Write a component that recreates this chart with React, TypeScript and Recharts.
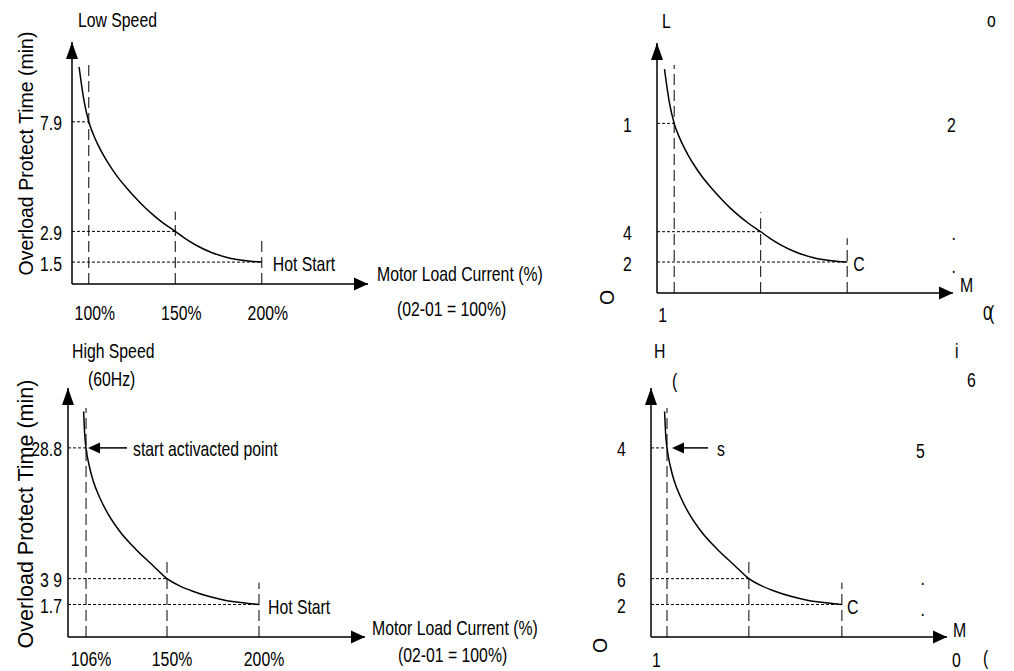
import React from 'react';
import { LineChart, Line, XAxis, YAxis, ReferenceLine, ReferenceDot } from 'recharts';

// Low speed overload curve (02-01 = 100%)
const lowLoad = [94.4, 97.1, 100, 102.7, 105.2, 108.3, 111.4, 116.4, 121.9, 127.1, 132.3, 137.7, 142.7, 150, 155.6, 161.8, 170.9, 180, 190.9, 200];
const lowTime = [10.4, 8.92, 7.9, 7.31, 6.87, 6.4, 5.99, 5.41, 4.88, 4.42, 4.0, 3.62, 3.3, 2.9, 2.58, 2.28, 1.94, 1.71, 1.56, 1.5];
// High speed (60Hz) overload curve
const highLoad = [104.7, 105.3, 106, 107.7, 109.9, 113.6, 118.2, 124.7, 133.0, 142.2, 150, 156.9, 164.0, 173.0, 182.0, 191.0, 200];
const highTime = [39.8, 32.5, 28.8, 24.1, 20.3, 16.5, 13.2, 10.1, 7.5, 5.4, 3.9, 3.2, 2.72, 2.28, 1.99, 1.82, 1.7];

// marked points and how far up the dashed guides reach
const lowKeyLoad = [100, 150, 200];
const lowKeyTime = [7.9, 2.9, 1.5];
const lowGuideTop = [10.6, 3.8, 2.6];
const highKeyLoad = [106, 150, 200];
const highKeyTime = [28.8, 3.9, 1.7];
const highGuideTop = [41, 6.4, 3.5];

const lowXLabels = ['100%', '150%', '200%'];
const lowYLabels = ['7.9', '2.9', '1.5'];
const highXLabels = ['106%', '150%', '200%'];
const highYLabels = ['28.8', '3 9', '1.7'];
// the right-hand copies only show fragments of the labels
const lowXCut = ['1', '', ''];
const lowYCut = ['1', '4', '2'];
const highXCut = ['1', '', ''];
const highYCut = ['4', '6', '2'];

const FONT = "'Liberation Sans', Arial, sans-serif";
const FS = 20.5;
const SQUEEZE = 0.77; // labels are set in a condensed face

type Anchor = 'start' | 'middle' | 'end';

function NText({ x, y, t, anchor = 'start', size = FS, squeeze = SQUEEZE, rot = false }: {
  x: number; y: number; t: string; anchor?: Anchor; size?: number; squeeze?: number; rot?: boolean;
}) {
  const tf = rot ? `translate(${x} ${y}) rotate(-90)` : `translate(${x} ${y}) scale(${squeeze} 1)`;
  return (
    <text x={0} y={0} transform={tf} textAnchor={anchor} fontFamily={FONT} fontSize={size} fill="#000">
      {t}
    </text>
  );
}

type Note = { t: string; x: number; y: number; rot?: boolean; anchor?: Anchor; size?: number };

type PanelCfg = {
  left: number; top: number; width: number; height: number;
  x0: number; x1: number; y0: number; y1: number;
  xDomain: [number, number]; yDomain: [number, number]; yScale: 'linear' | 'sqrt';
  load: number[]; time: number[];
  keyLoad: number[]; keyTime: number[]; guideTop: number[];
  xLabels: string[]; yLabels: string[];
  xTick: { dx: number; dy: number; anchor: Anchor };
  yTick: { dx: number; anchor: Anchor };
  end: { t: string; dx: number };
  pointer?: { t: string; tip: number; line: number; text: number };
  notes: Note[];
};

const AXIS_W = 40;
const AXIS_H = 40;

function Panel({ c }: { c: PanelCfg }) {
  const rows = c.load.map((x, i) => ({ x, y: c.time[i] }));
  const px0 = c.x0 - c.left;
  const px1 = c.x1 - c.left;
  const py0 = c.y0 - c.top;
  const py1 = c.y1 - c.top;

  const xTick = (p: any) => {
    const label = c.xLabels[c.keyLoad.indexOf(p.payload.value)] ?? '';
    return <NText x={p.x + c.xTick.dx} y={py1 + c.xTick.dy} t={label} anchor={c.xTick.anchor} />;
  };
  const yTick = (p: any) => {
    const label = c.yLabels[c.keyTime.indexOf(p.payload.value)] ?? '';
    return <NText x={px0 + c.yTick.dx} y={p.y + 8.5} t={label} anchor={c.yTick.anchor} />;
  };

  const n = c.keyLoad.length - 1;
  const ptr = c.pointer;

  return (
    <div style={{ position: 'absolute', left: c.left, top: c.top }}>
      <LineChart
        width={c.width}
        height={c.height}
        data={rows}
        margin={{ top: py0, left: px0 - AXIS_W, right: c.width - px1, bottom: c.height - py1 - AXIS_H }}
      >
        <XAxis
          type="number"
          dataKey="x"
          domain={c.xDomain}
          allowDataOverflow
          ticks={c.keyLoad}
          interval={0}
          height={AXIS_H}
          tickLine={false}
          tickSize={0}
          tickMargin={0}
          axisLine={{ stroke: '#000', strokeWidth: 1.5 }}
          tick={xTick}
        />
        <YAxis
          type="number"
          scale={c.yScale}
          domain={c.yDomain}
          allowDataOverflow
          ticks={c.keyTime}
          interval={0}
          width={AXIS_W}
          tickLine={false}
          tickSize={0}
          tickMargin={0}
          axisLine={{ stroke: '#000', strokeWidth: 1.5 }}
          tick={yTick}
        />
        {c.keyLoad.map((v, i) => (
          <ReferenceLine
            key={'v' + i}
            segment={[{ x: v, y: c.yDomain[0] }, { x: v, y: c.guideTop[i] }]}
            stroke="#000"
            strokeWidth={1}
            strokeDasharray="11 5"
            ifOverflow="visible"
          />
        ))}
        {c.keyLoad.map((v, i) => (
          <ReferenceLine
            key={'h' + i}
            segment={[{ x: c.xDomain[0], y: c.keyTime[i] }, { x: v, y: c.keyTime[i] }]}
            stroke="#000"
            strokeWidth={1}
            strokeDasharray="3 2"
            ifOverflow="visible"
          />
        ))}
        <Line
          type="monotone"
          dataKey="y"
          stroke="#000"
          strokeWidth={1.5}
          dot={false}
          activeDot={false}
          isAnimationActive={false}
        />
        <ReferenceDot
          x={c.keyLoad[n]}
          y={c.keyTime[n]}
          ifOverflow="visible"
          shape={(p: any) => <NText x={p.cx + c.end.dx} y={p.cy + 9} t={c.end.t} />}
        />
        {ptr && (
          <ReferenceDot
            x={c.keyLoad[0]}
            y={c.keyTime[0]}
            ifOverflow="visible"
            shape={(p: any) => (
              <g>
                <line x1={p.cx + ptr.tip + 10} y1={p.cy} x2={p.cx + ptr.line} y2={p.cy} stroke="#000" strokeWidth={1.5} />
                <polygon
                  points={`${p.cx + ptr.tip},${p.cy} ${p.cx + ptr.tip + 12},${p.cy - 5.5} ${p.cx + ptr.tip + 12},${p.cy + 5.5}`}
                  fill="#000"
                />
                <NText x={p.cx + ptr.text} y={p.cy + 8.5} t={ptr.t} />
              </g>
            )}
          />
        )}
        <polygon points={`${px0},${py0} ${px0 - 6},${py0 + 17} ${px0 + 6},${py0 + 17}`} fill="#000" />
        <polygon points={`${px1},${py1} ${px1 - 14},${py1 - 6.5} ${px1 - 14},${py1 + 6.5}`} fill="#000" />
        {c.notes.map((m, i) => (
          <NText
            key={'n' + i}
            x={m.x - c.left}
            y={m.y - c.top}
            t={m.t}
            anchor={m.anchor}
            size={m.size}
            rot={m.rot}
          />
        ))}
      </LineChart>
    </div>
  );
}

const topLeft: PanelCfg = {
  left: 0, top: 0, width: 560, height: 330,
  x0: 72, x1: 368, y0: 42, y1: 284,
  xDomain: [90.3, 261.4], yDomain: [0.5, 11.54], yScale: 'linear',
  load: lowLoad, time: lowTime, keyLoad: lowKeyLoad, keyTime: lowKeyTime, guideTop: lowGuideTop,
  xLabels: lowXLabels, yLabels: lowYLabels,
  xTick: { dx: 6, dy: 36, anchor: 'middle' },
  yTick: { dx: -10, anchor: 'end' },
  end: { t: 'Hot Start', dx: 11 },
  notes: [
    { t: 'Low Speed', x: 78, y: 27 },
    { t: 'Motor Load Current (%)', x: 377, y: 281 },
    { t: '(02-01 = 100%)', x: 397, y: 316 },
    { t: 'Overload Protect Time (min)', x: 33, y: 153.5, rot: true, anchor: 'middle', size: 19.5 },
  ],
};

const topRight: PanelCfg = {
  left: 560, top: 0, width: 454, height: 330,
  x0: 657, x1: 953, y0: 43, y1: 293,
  xDomain: [90.07, 261.17], yDomain: [0.07, 11.61], yScale: 'linear',
  load: lowLoad, time: lowTime, keyLoad: lowKeyLoad, keyTime: lowKeyTime, guideTop: lowGuideTop,
  xLabels: lowXCut, yLabels: lowYCut,
  xTick: { dx: -16, dy: 28.7, anchor: 'start' },
  yTick: { dx: -34, anchor: 'start' },
  end: { t: 'C', dx: 6 },
  notes: [
    { t: 'L', x: 662, y: 28 },
    { t: 'o', x: 987, y: 27 },
    { t: '2', x: 947, y: 131.5 },
    { t: '.', x: 951.5, y: 240 },
    { t: '.', x: 951.5, y: 273 },
    { t: 'M', x: 960, y: 291.7 },
    { t: '0', x: 983, y: 320 },
    { t: '(', x: 989, y: 320 },
    { t: 'O', x: 614, y: 305, rot: true, size: 19.5 },
  ],
};

const bottomLeft: PanelCfg = {
  left: 0, top: 330, width: 560, height: 341,
  x0: 68, x1: 365, y0: 388, y1: 637,
  xDomain: [96.2, 257.6], yDomain: [0.2125, 47.89], yScale: 'sqrt',
  load: highLoad, time: highTime, keyLoad: highKeyLoad, keyTime: highKeyTime, guideTop: highGuideTop,
  xLabels: highXLabels, yLabels: highYLabels,
  xTick: { dx: 5, dy: 29, anchor: 'middle' },
  yTick: { dx: -6, anchor: 'end' },
  end: { t: 'Hot Start', dx: 9 },
  pointer: { t: 'start activacted point', tip: 2, line: 41, text: 47 },
  notes: [
    { t: 'High Speed', x: 72, y: 357.5 },
    { t: '(60Hz)', x: 88, y: 386 },
    { t: 'Motor Load Current (%)', x: 372, y: 634.5 },
    { t: '(02-01 = 100%)', x: 398, y: 662 },
    { t: 'Overload Protect Time (min)', x: 33, y: 514, rot: true, anchor: 'middle', size: 21.5 },
  ],
};

const bottomRight: PanelCfg = {
  left: 560, top: 330, width: 454, height: 341,
  x0: 651, x1: 947, y0: 388, y1: 637,
  xDomain: [97.4, 256.5], yDomain: [0.2125, 47.89], yScale: 'sqrt',
  load: highLoad, time: highTime, keyLoad: highKeyLoad, keyTime: highKeyTime, guideTop: highGuideTop,
  xLabels: highXCut, yLabels: highYCut,
  xTick: { dx: -15, dy: 29.7, anchor: 'start' },
  yTick: { dx: -34, anchor: 'start' },
  end: { t: 'C', dx: 5 },
  pointer: { t: 's', tip: 5, line: 41, text: 50 },
  notes: [
    { t: 'H', x: 654, y: 358 },
    { t: '(', x: 672, y: 387.6 },
    { t: 'i', x: 955, y: 358 },
    { t: '6', x: 967, y: 386.7 },
    { t: '5', x: 916, y: 458 },
    { t: '.', x: 920.5, y: 585 },
    { t: '.', x: 920.5, y: 616 },
    { t: 'M', x: 953, y: 636.7 },
    { t: '0', x: 952, y: 666.7 },
    { t: '(', x: 983, y: 665 },
    { t: 'O', x: 607, y: 653, rot: true, size: 19.5 },
  ],
};

export default function App() {
  return (
    <div style={{ position: 'absolute', left: 0, top: 0, width: 1014, height: 671, background: '#fff', overflow: 'hidden' }}>
      <Panel c={topLeft} />
      <Panel c={topRight} />
      <Panel c={bottomLeft} />
      <Panel c={bottomRight} />
    </div>
  );
}
